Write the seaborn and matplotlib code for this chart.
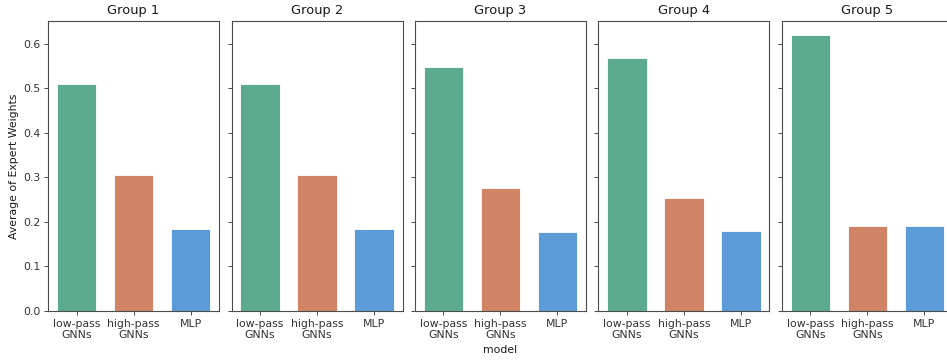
import pandas as pd
import seaborn as sns
import matplotlib.pyplot as plt

# Average expert weights per group
groups = ['Group 1', 'Group 2', 'Group 3', 'Group 4', 'Group 5']
models = ['low-pass\nGNNs', 'high-pass\nGNNs', 'MLP']
low_pass = [0.510, 0.510, 0.548, 0.568, 0.620]
high_pass = [0.306, 0.306, 0.276, 0.253, 0.191]
mlp = [0.185, 0.185, 0.177, 0.179, 0.191]

colors = ['#5dab8f', '#d18465', '#5a9bd8']

rows = []
for i, g in enumerate(groups):
    for m, vals in zip(models, [low_pass, high_pass, mlp]):
        rows.append({'group': g, 'model': m, 'weight': vals[i]})
df = pd.DataFrame(rows)

# the reference looks like a default-styled figure scaled down by ~0.78
s = 0.78
sns.set_style('ticks', {'axes.edgecolor': '0.3', 'xtick.color': '0.2', 'ytick.color': '0.2',
                        'text.color': '0.1', 'axes.labelcolor': '0.1'})
plt.rcParams['font.family'] = ['DejaVu Sans']
plt.rcParams.update({
    'font.size': 10 * s,
    'axes.titlesize': 12 * s,
    'axes.labelsize': 10 * s,
    'xtick.labelsize': 10 * s,
    'ytick.labelsize': 10 * s,
    'axes.linewidth': 0.8 * s * 1.3,
    'xtick.major.size': 3.5 * s,
    'ytick.major.size': 3.5 * s,
    'xtick.major.width': 0.8 * s,
    'ytick.major.width': 0.8 * s,
    'xtick.major.pad': 3.5 * s,
    'ytick.major.pad': 3.5 * s,
    'axes.titlepad': 6 * s,
    'axes.labelpad': 4 * s,
})

fig, axes = plt.subplots(1, 5, figsize=(9.47, 3.6), dpi=100, sharey=True)
fig.subplots_adjust(left=0.0507, right=1.0063, top=0.9417, bottom=0.1361, wspace=0.073)

for ax, g in zip(axes, groups):
    sub = df[df['group'] == g]
    sns.barplot(data=sub, x='model', y='weight', hue='model', palette=colors,
                width=0.7, saturation=1, edgecolor='white', linewidth=0.6,
                legend=False, ax=ax)
    ax.set_title(g)
    ax.set_xlabel('')
    ax.set_ylabel('')

axes[0].set_ylabel('Average of Expert Weights')
axes[2].set_xlabel('model')

plt.savefig('out.png', dpi=100)
